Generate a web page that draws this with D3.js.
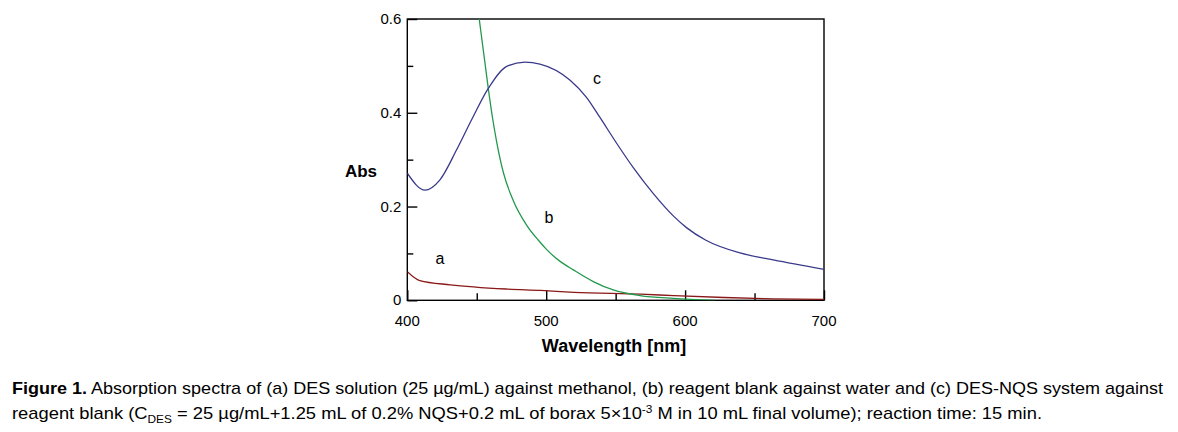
<!DOCTYPE html>
<html><head><meta charset="utf-8">
<script src="https://cdn.jsdelivr.net/npm/d3@7"></script>
<style>body{margin:0;background:#fff}svg{display:block}</style>
</head><body>
<svg id="c" width="1178" height="432"></svg>
<script>
// Wavelength (nm) and absorbance for each curve
const curveA_wl = [400, 409, 431, 472, 496, 520, 568, 592, 628, 664, 700];
const curveA_abs = [0.061, 0.042, 0.033, 0.024, 0.021, 0.017, 0.013, 0.010, 0.006, 0.003, 0.002];
const curveB_wl = [448, 451.8, 458.3, 461.2, 464.4, 469.2, 476.4, 486, 494.4, 500.4, 510, 519.5, 533.9, 548.3, 567.6, 591.5, 621.5];
const curveB_abs = [0.69, 0.60, 0.452, 0.392, 0.337, 0.272, 0.212, 0.160, 0.128, 0.108, 0.083, 0.065, 0.040, 0.022, 0.010, 0.004, 0.0];
const curveC_wl = [400, 412.7, 423.5, 435.5, 446.3, 458.3, 471.6, 484.7, 495.5, 517, 529, 538.7, 550.7, 562.7, 577, 591.5, 601, 615, 639.5, 663.5, 700];
const curveC_abs = [0.271, 0.235, 0.257, 0.321, 0.385, 0.452, 0.499, 0.508, 0.504, 0.470, 0.433, 0.390, 0.335, 0.283, 0.228, 0.180, 0.155, 0.128, 0.101, 0.086, 0.066];
const xMajorTicks = [400, 500, 600, 700];
const xMinorTicks = [450, 550, 650];
const yLabelTicks = [0, 0.2, 0.4, 0.6];
const yMinorTicks = [0.1, 0.3, 0.5];
const curveLabels = [{t:"a", wl:423.5, v:0.0775}, {t:"b", wl:502, v:0.165}, {t:"c", wl:536.6, v:0.462}];

const svg = d3.select("#c");
const x = d3.scaleLinear().domain([400, 700]).range([407.3, 824]);
const y = d3.scaleLinear().domain([0, 0.6]).range([300.3, 19]);
const axisFont = "'Liberation Sans', Arial, sans-serif";

svg.append("defs").append("clipPath").attr("id","clip")
  .append("rect").attr("x", x(400)).attr("y", y(0.6)).attr("width", x(700)-x(400)).attr("height", y(0)-y(0.6));

// frame
svg.append("rect").attr("x", x(400)).attr("y", y(0.6)).attr("width", x(700)-x(400)).attr("height", y(0)-y(0.6))
  .attr("fill","none").attr("stroke","#000").attr("stroke-width",1.4);

// axes with inward ticks
function styleTicks(g){ g.select(".domain").remove(); g.selectAll("line").attr("stroke","#000").attr("stroke-width",1.4); }
svg.append("g").attr("transform",`translate(0,${y(0)})`).call(d3.axisTop(x).tickValues(xMajorTicks).tickSize(10).tickFormat("")).call(styleTicks);
svg.append("g").attr("transform",`translate(0,${y(0)})`).call(d3.axisTop(x).tickValues(xMinorTicks).tickSize(7).tickFormat("")).call(styleTicks);
svg.append("g").attr("transform",`translate(${x(400)},0)`).call(d3.axisRight(y).tickValues(yLabelTicks).tickSize(10).tickFormat("")).call(styleTicks);
svg.append("g").attr("transform",`translate(${x(400)},0)`).call(d3.axisRight(y).tickValues(yMinorTicks).tickSize(6).tickFormat("")).call(styleTicks);

// tick labels
svg.append("g").selectAll("text").data(xMajorTicks).join("text")
  .attr("x", d=>x(d)).attr("y", y(0)+26).attr("text-anchor","middle")
  .attr("font-family", axisFont).attr("font-size",15).text(d=>d);
svg.append("g").selectAll("text").data(yLabelTicks).join("text")
  .attr("x", x(400)-6).attr("y", d=>y(d)+5).attr("text-anchor","end")
  .attr("font-family", axisFont).attr("font-size",15).text(d=>d===0?"0":d3.format(".1f")(d));

svg.append("text").attr("x",361).attr("y",177).attr("text-anchor","middle")
  .attr("font-family",axisFont).attr("font-weight","bold").attr("font-size",17).text("Abs");
svg.append("text").attr("x",614).attr("y",352).attr("text-anchor","middle")
  .attr("font-family",axisFont).attr("font-weight","bold").attr("font-size",18).text("Wavelength [nm]");

const line = d3.line().x(d=>x(d[0])).y(d=>y(d[1])).curve(d3.curveMonotoneX);
const plot = svg.append("g").attr("clip-path","url(#clip)");
const series = [
  {wl:curveA_wl, v:curveA_abs, c:"#8a1818"},
  {wl:curveB_wl, v:curveB_abs, c:"#22994c"},
  {wl:curveC_wl, v:curveC_abs, c:"#3a3a8c"}
];
series.forEach(s=>{
  plot.append("path").datum(s.wl.map((w,i)=>[w,s.v[i]])).attr("d",line)
    .attr("fill","none").attr("stroke",s.c).attr("stroke-width",1.3);
});

svg.append("g").selectAll("text").data(curveLabels).join("text")
  .attr("x", d=>x(d.wl)).attr("y", d=>y(d.v)).attr("text-anchor","middle")
  .attr("font-family",axisFont).attr("font-size",16).text(d=>d.t);

// caption
const capFont = "'Liberation Sans', Arial, sans-serif";
const l1 = svg.append("text").attr("x",12).attr("y",394).attr("font-family",capFont).attr("font-size",17).attr("fill","#000")
  .attr("textLength",1151).attr("lengthAdjust","spacingAndGlyphs");
l1.append("tspan").attr("font-weight","bold").text("Figure 1.");
l1.append("tspan").text(" Absorption spectra of (a) DES solution (25 µg/mL) against methanol, (b) reagent blank against water and (c) DES-NQS system against");
const l2 = svg.append("text").attr("x",12).attr("y",419).attr("font-family",capFont).attr("font-size",17).attr("fill","#000")
  .attr("textLength",1030).attr("lengthAdjust","spacingAndGlyphs");
l2.append("tspan").text("reagent blank (C");
l2.append("tspan").attr("font-size",11).attr("dy",4).text("DES");
l2.append("tspan").attr("dy",-4).text(" = 25 µg/mL+1.25 mL of 0.2% NQS+0.2 mL of borax 5×10");
l2.append("tspan").attr("font-size",11).attr("dy",-6).text("-3");
l2.append("tspan").attr("dy",6).text(" M in 10 mL final volume); reaction time: 15 min.");
</script>
</body></html>
